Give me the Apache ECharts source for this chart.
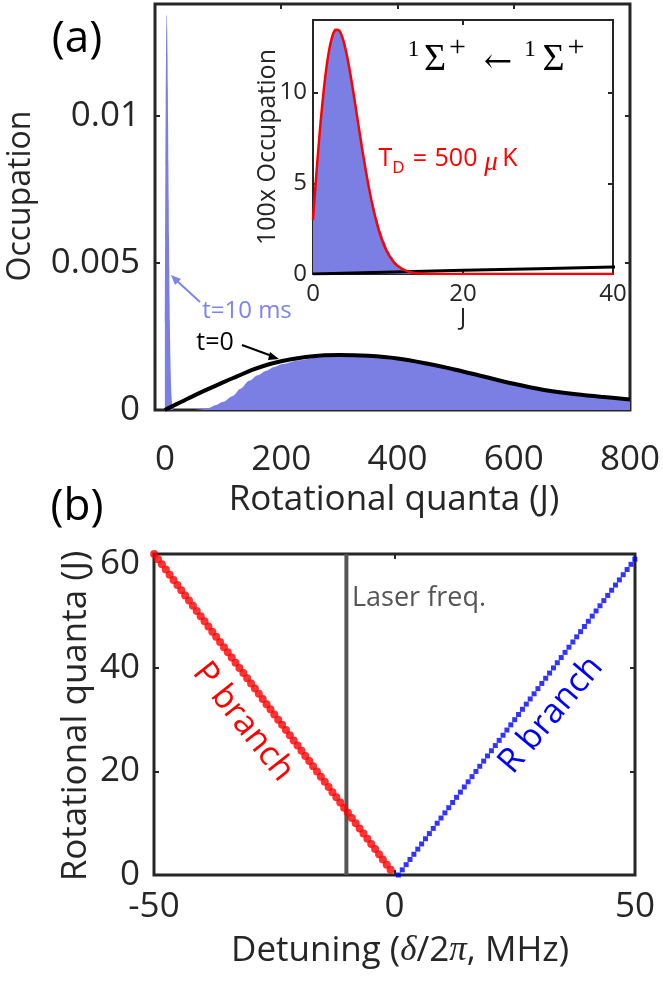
<!DOCTYPE html>
<html>
<head>
<meta charset="utf-8">
<script src="https://cdn.jsdelivr.net/npm/echarts@6/dist/echarts.min.js"></script>
<style>html,body{margin:0;padding:0;background:#fff}#c{width:663px;height:984px}</style>
</head>
<body>
<div id="c"></div>
<script>
// ---------- data ----------
// panel (a): occupation in units of 1e-3 (per mille); inset axis shows the same numbers
const t0J = [0,20,40,60,80,100,125,150,175,200,250,300,350,400,450,500,550,600,650,700,750,800];
const t0PerMille = [0,0.2,0.39,0.58,0.76,0.94,1.15,1.36,1.53,1.66,1.82,1.87,1.84,1.75,1.58,1.37,1.13,0.89,0.69,0.55,0.45,0.36];

const tenMsJ = [0,0.5,1,1.5,2,2.5,3,3.5,4,4.5,5,5.5,6,6.5,7,7.5,8,8.5,9,9.5,10,10.5,11,11.5,12,12.5,13,13.5,14,15,50,60,75,88,100,117,130,145,160,174,188,202,231,259,288,316,350,400,450,500,550,600,650,700,750,800];
const tenMsPerMille = [3.0,5.8,8.3,10.4,12.0,13.0,13.45,13.4,12.95,12.1,11.0,9.8,8.45,7.15,5.95,4.85,3.9,3.05,2.35,1.8,1.3,0.95,0.65,0.45,0.3,0.18,0.1,0.05,0.02,0,0,0.02,0.07,0.17,0.28,0.48,0.72,0.99,1.18,1.33,1.46,1.56,1.69,1.78,1.83,1.85,1.83,1.74,1.57,1.36,1.12,0.88,0.68,0.54,0.44,0.35];

const tdJ = [0,0.5,1,1.5,2,2.5,3,3.5,4,4.5,5,5.5,6,6.5,7,7.5,8,8.5,9,9.5,10,10.5,11,11.5,12,12.5,13,13.5,14,15,40];
const tdVal = [2.98,5.8,8.31,10.39,11.97,12.99,13.46,13.42,12.93,12.08,10.97,9.7,8.36,7.04,5.79,4.65,3.66,2.82,2.12,1.56,1.13,0.8,0.55,0.38,0.25,0.16,0.1,0.06,0.04,0.01,0];

const mainXTicks = [0,200,400,600,800];
const mainYTicks = [0,0.005,0.01];
const insetXTicks = [0,20,40];
const insetYTicks = [0,5,10];

// panel (b)
const pJ = [1,2,3,4,5,6,7,8,9,10,11,12,13,14,15,16,17,18,19,20,21,22,23,24,25,26,27,28,29,30,31,32,33,34,35,36,37,38,39,40,41,42,43,44,45,46,47,48,49,50,51,52,53,54,55,56,57,58,59,60,61,62];
const pDetuning = [-0.81,-1.61,-2.42,-3.22,-4.03,-4.84,-5.64,-6.45,-7.25,-8.06,-8.87,-9.67,-10.48,-11.28,-12.09,-12.9,-13.7,-14.51,-15.31,-16.12,-16.93,-17.73,-18.54,-19.34,-20.15,-20.96,-21.76,-22.57,-23.37,-24.18,-24.99,-25.79,-26.6,-27.4,-28.21,-29.02,-29.82,-30.63,-31.43,-32.24,-33.05,-33.85,-34.66,-35.46,-36.27,-37.08,-37.88,-38.69,-39.49,-40.3,-41.11,-41.91,-42.72,-43.52,-44.33,-45.14,-45.94,-46.75,-47.55,-48.36,-49.17,-49.97];
const rJ = [0,1,2,3,4,5,6,7,8,9,10,11,12,13,14,15,16,17,18,19,20,21,22,23,24,25,26,27,28,29,30,31,32,33,34,35,36,37,38,39,40,41,42,43,44,45,46,47,48,49,50,51,52,53,54,55,56,57,58,59,60,61];
const rDetuning = [0.81,1.61,2.42,3.22,4.03,4.84,5.64,6.45,7.25,8.06,8.87,9.67,10.48,11.28,12.09,12.9,13.7,14.51,15.31,16.12,16.93,17.73,18.54,19.34,20.15,20.96,21.76,22.57,23.37,24.18,24.99,25.79,26.6,27.4,28.21,29.02,29.82,30.63,31.43,32.24,33.05,33.85,34.66,35.46,36.27,37.08,37.88,38.69,39.49,40.3,41.11,41.91,42.72,43.52,44.33,45.14,45.94,46.75,47.55,48.36,49.17,49.97];
const laserDetuning = -10;
const bXTicks = [-50,0,50];
const bYTicks = [0,20,40,60];

// ---------- chart ----------
const FONT = 'Open Sans';
const AX = '#262626';
const BLUEFILL = '#7b7fe3';
const LIGHTBLUE = '#7d84ec';

const zip = (a, b, k) => a.map((v, i) => [v, b[i] * (k || 1)]);

function ax(gi, pos, min, max, labels, ticks, margin, fs) {
  return {
    type: 'value', gridIndex: gi, position: pos, min: min, max: max,
    axisLine: { show: false, onZero: false }, splitLine: { show: false },
    axisTick: { show: true, inside: true, length: 5, customValues: ticks, lineStyle: { color: AX, width: 2 } },
    axisLabel: labels ? { show: true, customValues: labels, margin: margin, fontSize: fs, fontFamily: FONT, color: AX } : { show: false }
  };
}

const chart = echarts.init(document.getElementById('c'), null, { renderer: 'canvas' });

const option = {
  animation: false,
  backgroundColor: '#fff',
  grid: [
    { left: 155, top: 4, width: 479, height: 406, show: true, borderColor: AX, borderWidth: 3, backgroundColor: 'transparent' },
    { left: 313, top: 20, width: 300, height: 254, show: true, borderColor: AX, borderWidth: 2, backgroundColor: '#fff' },
    { left: 154, top: 554, width: 481, height: 321, show: true, borderColor: AX, borderWidth: 3, backgroundColor: 'transparent' }
  ],
  xAxis: [
    ax(0, 'bottom', -17, 800, mainXTicks, [200,400,600], 33, 35),
    ax(0, 'top', -17, 800, null, [200,400,600]),
    ax(1, 'bottom', 0, 40, insetXTicks, [20], 8, 24),
    ax(1, 'top', 0, 40, null, [20]),
    ax(2, 'bottom', -50, 50, bXTicks, [0], 15, 35),
    ax(2, 'top', -50, 50, null, [0])
  ],
  yAxis: [
    ax(0, 'left', 0, 0.0138, mainYTicks, [0.005,0.01], 15, 35),
    ax(0, 'right', 0, 0.0138, null, [0.005,0.01]),
    ax(1, 'left', 0, 14, insetYTicks, [5,10], 6, 24),
    ax(1, 'right', 0, 14, null, [5,10]),
    ax(2, 'left', 0, 62, bYTicks, [20,40], 14, 35),
    ax(2, 'right', 0, 62, null, [20,40])
  ],
  series: [
    { type: 'line', xAxisIndex: 0, yAxisIndex: 0, data: zip(tenMsJ, tenMsPerMille, 0.001), symbol: 'none',
      smooth: 0.3, smoothMonotone: 'x',
      lineStyle: { width: 0 }, areaStyle: { color: BLUEFILL, opacity: 1 }, z: 2 },
    { type: 'line', xAxisIndex: 0, yAxisIndex: 0, data: zip(t0J, t0PerMille, 0.001), symbol: 'none', smooth: 0.35,
      lineStyle: { width: 4, color: '#000' }, z: 3 },
    { type: 'line', xAxisIndex: 2, yAxisIndex: 2, data: zip(tenMsJ, tenMsPerMille), symbol: 'none',
      smooth: 0.3, smoothMonotone: 'x',
      lineStyle: { width: 0 }, areaStyle: { color: BLUEFILL, opacity: 1 }, z: 4 },
    { type: 'line', xAxisIndex: 2, yAxisIndex: 2, data: zip(t0J, t0PerMille), symbol: 'none', smooth: 0.35,
      lineStyle: { width: 3, color: '#000' }, z: 5 },
    { type: 'line', xAxisIndex: 2, yAxisIndex: 2, data: zip(tdJ, tdVal), symbol: 'none', smooth: 0.2,
      lineStyle: { width: 2.5, color: '#ff0000' }, z: 6 },
    { type: 'line', xAxisIndex: 4, yAxisIndex: 4, data: [[laserDetuning, 0], [laserDetuning, 62]], symbol: 'none',
      lineStyle: { width: 4, color: '#555555' }, z: 3 },
    { type: 'scatter', xAxisIndex: 4, yAxisIndex: 4, data: zip(pDetuning, pJ), symbol: 'circle', symbolSize: 8,
      itemStyle: { color: '#ff0000' }, clip: false, z: 4 },
    { type: 'scatter', xAxisIndex: 4, yAxisIndex: 4, data: zip(rDetuning, rJ), symbol: 'rect', symbolSize: 5,
      itemStyle: { color: '#0000ff' }, clip: false, z: 4 }
  ],
  graphic: []
};

function txt(x, y, text, fs, color, extra) {
  return Object.assign({ type: 'text', x: x, y: y, z: 100,
    style: Object.assign({ text: text, fontSize: fs, fontFamily: FONT, fill: color || AX, align: 'center', verticalAlign: 'middle' }, (extra && extra.style) || {}) },
    extra ? { rotation: extra.rotation || 0 } : {});
}
const SERIF = 'Liberation Serif';
const g = option.graphic;
g.push(txt(77, 39, '(a)', 44, '#000'));
g.push(txt(77, 507, '(b)', 44, '#000'));
g.push(txt(21, 196, 'Occupation', 32, AX, { rotation: Math.PI / 2 }));
g.push(txt(394, 500, 'Rotational quanta (J)', 35, AX));
g.push(txt(76, 716, 'Rotational quanta (J)', 35, AX, { rotation: Math.PI / 2 }));
g.push({ type: 'text', x: 400, y: 951, z: 100, style: {
  text: '{n|Detuning (}{i|δ}{n|/2}{i|π}{n|, MHz)}', align: 'center', verticalAlign: 'middle',
  rich: { n: { fontSize: 35, fontFamily: FONT, fill: AX }, i: { fontSize: 35, fontFamily: SERIF, fontStyle: 'italic', fill: AX } } } });
// inset texts
g.push(txt(268, 147, '100x Occupation', 25, AX, { rotation: Math.PI / 2 }));
g.push(txt(463, 318, 'J', 24, AX));
g.push(txt(413.5, 50, '1', 24, '#000', { style: { fontFamily: SERIF } }));
g.push(txt(435, 60, 'Σ', 38, '#000', { style: { fontFamily: SERIF } }));
g.push(txt(457.5, 48, '+', 30, '#000', { style: { fontFamily: SERIF } }));
g.push(txt(498, 63, '←', 34, '#000', { style: { fontFamily: 'DejaVu Serif' } }));
g.push(txt(530, 50, '1', 24, '#000', { style: { fontFamily: SERIF } }));
g.push(txt(553.5, 60, 'Σ', 38, '#000', { style: { fontFamily: SERIF } }));
g.push(txt(576, 48, '+', 30, '#000', { style: { fontFamily: SERIF } }));
// T_D label
g.push(txt(385.5, 159, 'T', 25, '#ff0000'));
g.push(txt(398.5, 168, 'D', 17, '#ff0000'));
g.push(txt(420, 160, '=', 25, '#ff0000'));
g.push(txt(456, 159, '500', 25, '#ff0000'));
g.push(txt(491, 163, 'μ', 27, '#ff0000', { style: { fontFamily: SERIF, fontStyle: 'italic' } }));
g.push(txt(510, 159, 'K', 25, '#ff0000'));
// annotations panel (a)
g.push(txt(247, 311, 't=10 ms', 24, LIGHTBLUE));
g.push(txt(215, 343, 't=0', 25, '#000'));
g.push({ type: 'line', z: 100, shape: { x1: 200, y1: 302, x2: 176, y2: 280 }, style: { stroke: LIGHTBLUE, lineWidth: 2 } });
g.push({ type: 'polygon', z: 100, shape: { points: [[171, 275], [181, 279], [175, 285]] }, style: { fill: LIGHTBLUE } });
g.push({ type: 'line', z: 100, shape: { x1: 242, y1: 345, x2: 272, y2: 356 }, style: { stroke: '#000', lineWidth: 2 } });
g.push({ type: 'polygon', z: 100, shape: { points: [[279, 359], [270, 352], [268, 360]] }, style: { fill: '#000' } });
// panel (b) labels
g.push(txt(352, 598, 'Laser freq.', 27, '#555555', { style: { align: 'left' } }));
g.push(txt(243, 722, 'P branch', 34, '#ff0000', { rotation: -0.9 }));
g.push(txt(551, 715, 'R branch', 34, '#0000ff', { rotation: 0.87 }));

chart.setOption(option);
</script>
</body>
</html>
